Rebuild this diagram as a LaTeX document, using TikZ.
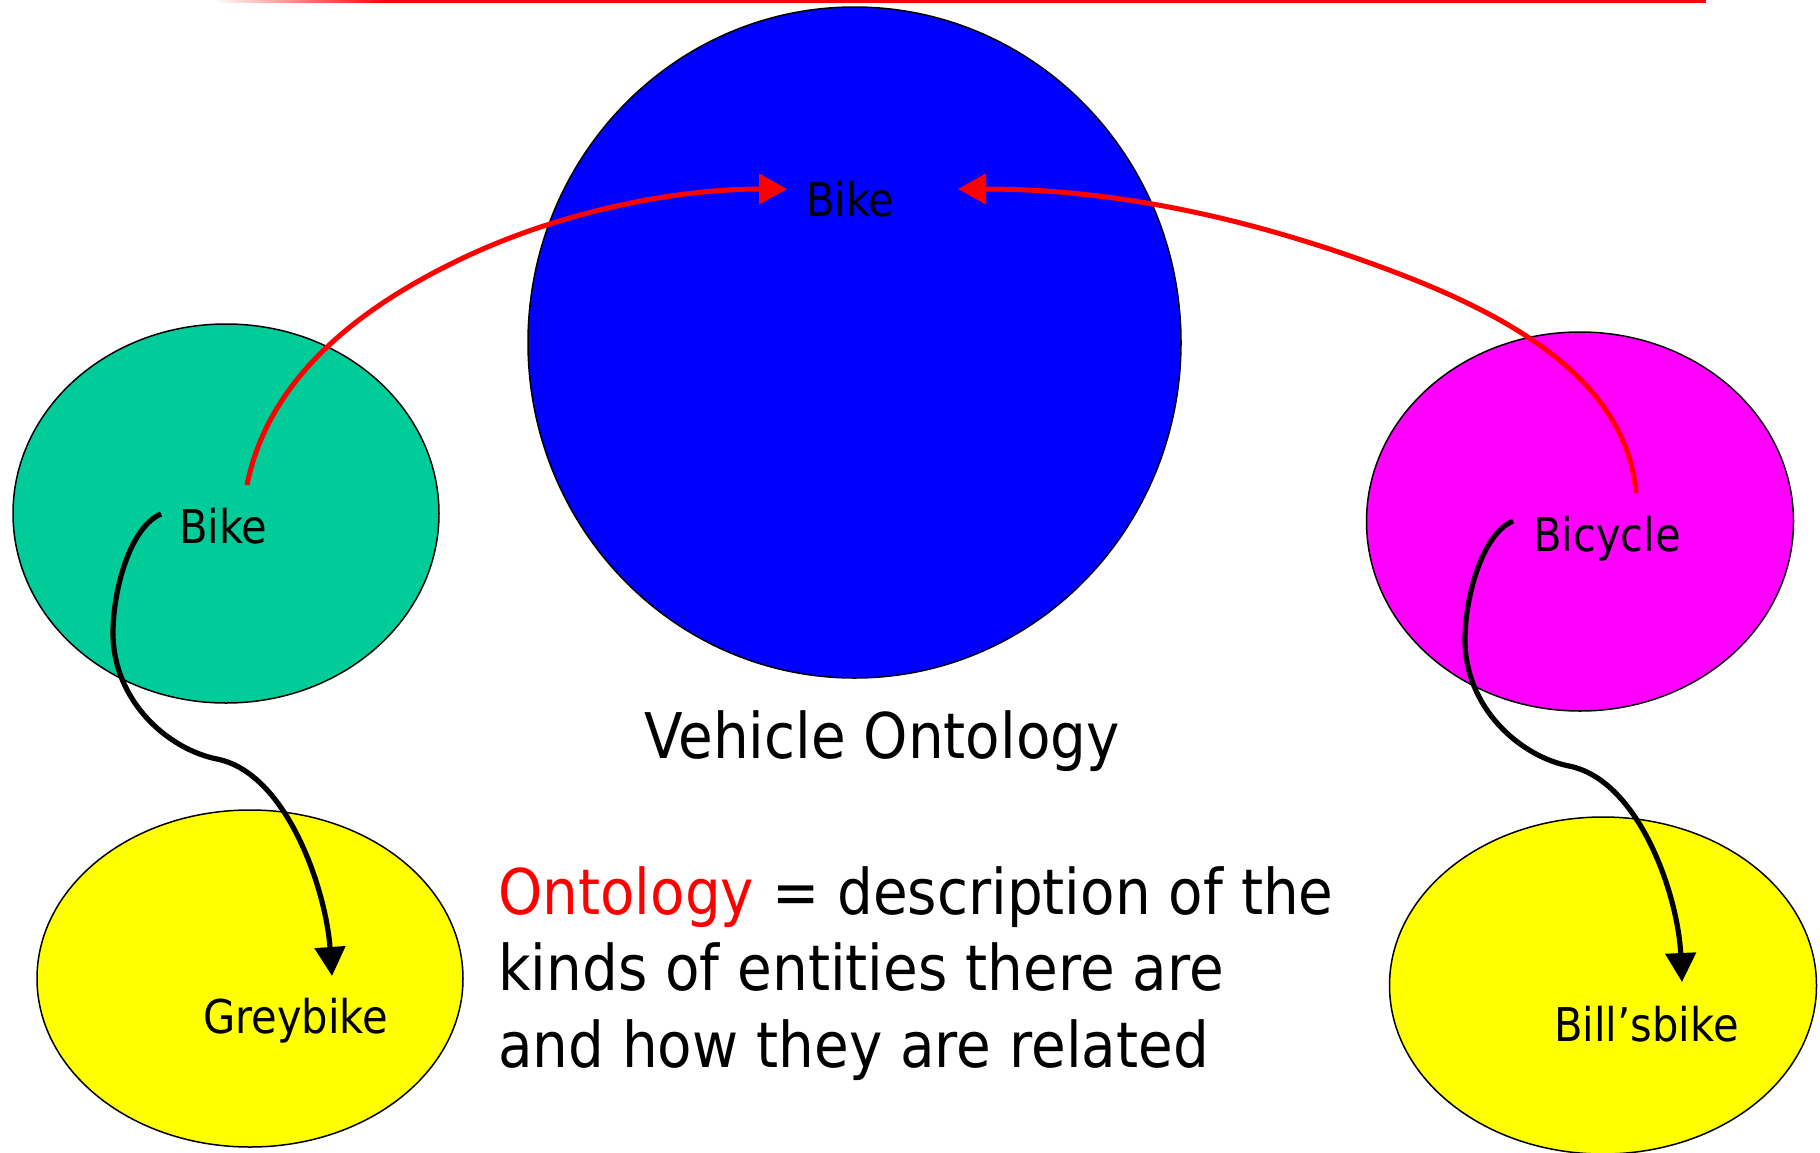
\documentclass[tikz,border=0pt]{standalone}
\usepackage{fontspec}
\setmainfont{DejaVu Sans}[FakeStretch=0.895]
\usetikzlibrary{shapes.geometric,arrows.meta}
\definecolor{vblue}{RGB}{0,0,255}
\definecolor{vgreen}{RGB}{0,204,153}
\definecolor{vmagenta}{RGB}{255,0,255}
\definecolor{vyellow}{RGB}{255,255,0}
\definecolor{vred}{RGB}{255,0,0}

\begin{document}
\begin{tikzpicture}[x=1pt,y=-1pt,
  blob/.style={ellipse, draw=black, line width=1.5pt, inner sep=0pt},
  lbl/.style={anchor=base west, inner sep=0pt, font=\fontsize{46.5}{56}\selectfont},
  bigtxt/.style={anchor=base west, inner sep=0pt, font=\fontsize{63}{76}\selectfont},
  isa/.style={draw=vred, line width=5pt, -{Triangle[length=28pt,width=30pt]}},
  inst/.style={draw=black, line width=5.2pt, -{Triangle[length=29pt,width=30pt]}},
]
\useasboundingbox (0,0) rectangle (1820,1152);

% header rule, fading in from the left
\shade[left color=white, right color=vred] (215,0) rectangle (386,2.5);
\fill[vred] (385,0) rectangle (1706,2.5);

% ontologies and instances
\node[blob, fill=vblue, minimum width=653pt, minimum height=671pt] (vehicle) at (854.5,342.5) {};
\node[blob, fill=vgreen, minimum width=426pt, minimum height=379pt] (bikeOnt) at (226,513.5) {};
\node[blob, fill=vmagenta, minimum width=427pt, minimum height=379pt] (bicycleOnt) at (1580,521.5) {};
\node[blob, fill=vyellow, minimum width=426pt, minimum height=337pt] (greyInst) at (250,978.5) {};
\node[blob, fill=vyellow, minimum width=427pt, minimum height=337pt] (billInst) at (1603,985.5) {};

% connector end points
\coordinate (bikeUp) at (247,485);
\coordinate (bikeDown) at (161,514);
\coordinate (bicUp) at (1636,493);
\coordinate (bicDown) at (1513,521);
\coordinate (vehInL) at (787,189);
\coordinate (vehInR) at (958,189);
\coordinate (greyIn) at (332,976);
\coordinate (billIn) at (1682,982);

% mappings into the vehicle ontology
\draw[isa] (bikeUp) .. controls (269,375) and (364,305) .. (463,258)
  .. controls (562,211) and (676,189) .. (vehInL);
\draw[isa] (bicUp) .. controls (1626,373) and (1494,308.5) .. (1381,267)
  .. controls (1240,215) and (1109,189) .. (vehInR);

% instance links
\draw[inst] (bikeDown) .. controls (130,527) and (113,590) .. (113,633)
  .. controls (113,700) and (167,749) .. (217,759)
  .. controls (287,773) and (326,890) .. (greyIn);
\draw[inst] (bicDown) .. controls (1482,534) and (1465,597) .. (1465,640)
  .. controls (1465,707) and (1519,756) .. (1569,766)
  .. controls (1639,780) and (1678,895) .. (billIn);

% labels
\node[lbl] (vehBike) at (806,216) {Bike};
\node[lbl] (bike) at (179,543) {Bike};
\node[lbl] (bicycle) at (1533,551) {Bicycle};
\node[lbl] (grey) at (203,1033) {Greybike};
\node[lbl] (bill) at (1554,1041) {Bill’sbike};

\node[bigtxt] (title) at (644,758) {Vehicle Ontology};
\node[bigtxt] (def1) at (498,914) {\textcolor{vred}{Ontology} = description of the};
\node[bigtxt] (def2) at (498,990) {kinds of entities there are};
\node[bigtxt] (def3) at (498,1067) {and how they are related};
\end{tikzpicture}
\end{document}
